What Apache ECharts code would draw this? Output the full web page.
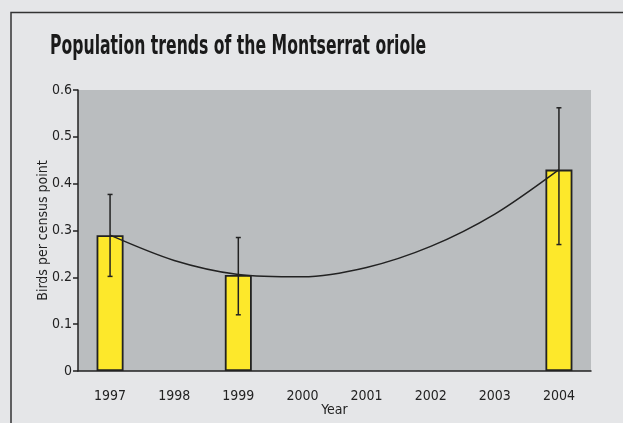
<!DOCTYPE html>
<html>
<head>
<meta charset="utf-8">
<script src="https://cdn.jsdelivr.net/npm/echarts@6/dist/echarts.min.js"></script>
<style>
  html, body { margin: 0; padding: 0; background: #e5e6e8; }
  #chart { width: 623px; height: 423px; }
</style>
</head>
<body>
<div id="chart"></div>
<script>
// data
const years = ['1997', '1998', '1999', '2000', '2001', '2002', '2003', '2004'];
const birds = [0.29, null, 0.205, null, null, null, null, 0.43];
const errLow = [0.202, null, 0.12, null, null, null, null, 0.27];
const errHigh = [0.377, null, 0.285, null, null, null, null, 0.562];
const trend = [0.29, 0.236, 0.206, 0.201, 0.221, 0.266, 0.335, 0.43];
const yTicks = [0, 0.1, 0.2, 0.3, 0.4, 0.5, 0.6];

const FONT = "'DejaVu Sans Condensed', 'Liberation Sans Narrow', sans-serif";
const INK = '#222';

const errData = [];
years.forEach((y, i) => {
  if (errLow[i] != null) errData.push([i, errLow[i], errHigh[i]]);
});

const myChart = echarts.init(document.getElementById('chart'));

const option = {
  backgroundColor: '#e5e6e8',
  animation: false,
  textStyle: { fontFamily: FONT, color: INK },
  graphic: [
    {
      // outer frame (only top and left edges are visible)
      type: 'rect',
      shape: { x: 11, y: 12.5, width: 700, height: 500 },
      style: { fill: 'none', stroke: '#333', lineWidth: 1.5 },
      silent: true
    },
    {
      // title, squeezed to the condensed width of the original
      type: 'text',
      x: 50,
      y: 34,
      scaleX: 0.67,
      style: {
        text: 'Population trends of the Montserrat oriole',
        fontFamily: FONT,
        fontWeight: 'bold',
        fontSize: 26,
        fill: '#1a1a1a',
        verticalAlign: 'top'
      }
    }
  ],
  grid: {
    left: 78,
    right: 32,
    top: 90,
    bottom: 52,
    show: true,
    backgroundColor: '#babdbf',
    borderWidth: 0
  },
  xAxis: {
    type: 'category',
    data: years,
    name: 'Year',
    nameLocation: 'middle',
    nameGap: 32,
    nameMoveOverlap: false,
    nameTextStyle: { fontFamily: FONT, fontSize: 14, color: INK },
    axisLine: { lineStyle: { color: INK, width: 1.5 } },
    axisTick: { length: 4, lineStyle: { color: INK, width: 1.5 } },
    axisLabel: { margin: 18, fontFamily: FONT, fontSize: 14, color: INK },
    splitLine: { show: false }
  },
  yAxis: {
    type: 'value',
    min: 0,
    max: yTicks[yTicks.length - 1],
    interval: 0.1,
    name: 'Birds per census point',
    nameLocation: 'middle',
    nameGap: 28,
    nameMoveOverlap: false,
    nameTextStyle: { fontFamily: FONT, fontSize: 14, color: INK },
    axisLine: { show: true, lineStyle: { color: INK, width: 1.5 } },
    axisTick: { show: true, length: 5, lineStyle: { color: INK, width: 1.5 } },
    axisLabel: { margin: 6, fontFamily: FONT, fontSize: 14, color: INK },
    splitLine: { show: false }
  },
  series: [
    {
      type: 'bar',
      data: birds,
      barWidth: 27,
      z: 2,
      itemStyle: { color: '#fde82b', borderColor: INK, borderWidth: 1.8 }
    },
    {
      type: 'line',
      data: trend,
      smooth: 0.3,
      showSymbol: false,
      z: 3,
      lineStyle: { color: INK, width: 1.5 }
    },
    {
      type: 'custom',
      data: errData,
      z: 4,
      renderItem: function (params, api) {
        const lo = api.coord([api.value(0), api.value(1)]);
        const hi = api.coord([api.value(0), api.value(2)]);
        const cap = 2.5;
        const style = { stroke: INK, lineWidth: 1.5 };
        return {
          type: 'group',
          children: [
            { type: 'line', shape: { x1: hi[0], y1: hi[1], x2: lo[0], y2: lo[1] }, style: style },
            { type: 'line', shape: { x1: hi[0] - cap, y1: hi[1], x2: hi[0] + cap, y2: hi[1] }, style: style },
            { type: 'line', shape: { x1: lo[0] - cap, y1: lo[1], x2: lo[0] + cap, y2: lo[1] }, style: style }
          ]
        };
      }
    }
  ]
};

myChart.setOption(option);
</script>
</body>
</html>
